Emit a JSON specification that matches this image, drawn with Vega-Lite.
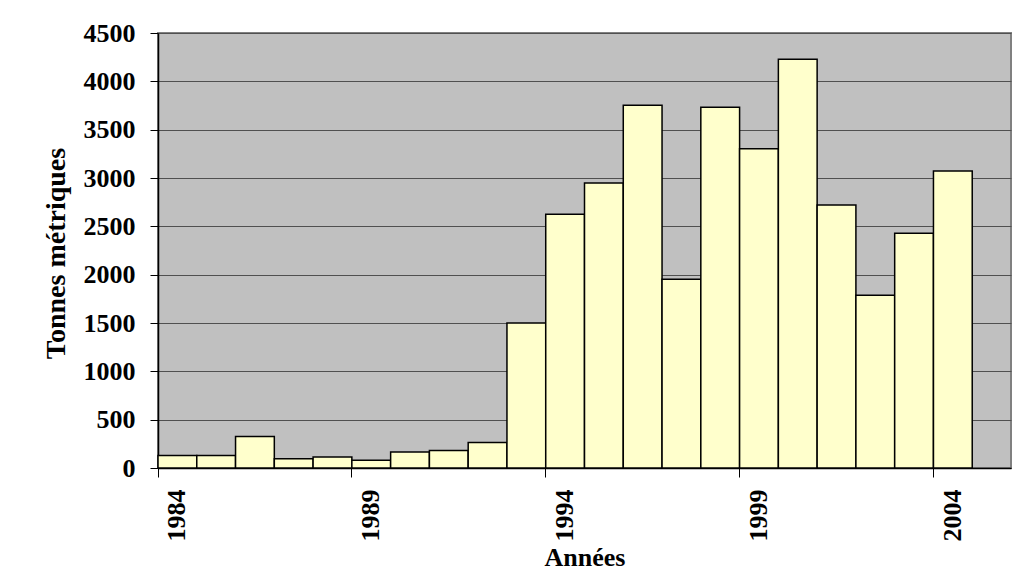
{
  "$schema": "https://vega.github.io/schema/vega-lite/v6.json",
  "width": 853,
  "height": 435,
  "autosize": {"type": "none"},
  "padding": {"left": 158, "top": 33, "right": 15, "bottom": 105},
  "background": "white",
  "config": {
    "view": {"fill": "#C0C0C0", "stroke": "#808080", "strokeWidth": 2},
    "font": "Liberation Serif",
    "axis": {
      "labelFont": "Liberation Serif",
      "titleFont": "Liberation Serif",
      "labelFontWeight": "bold",
      "titleFontWeight": "bold",
      "labelColor": "black",
      "titleColor": "black",
      "domainColor": "black",
      "tickColor": "black"
    }
  },
  "data": {
    "values": [
      {"year": 1984, "tonnes": 130},
      {"year": 1985, "tonnes": 130},
      {"year": 1986, "tonnes": 327},
      {"year": 1987, "tonnes": 96},
      {"year": 1988, "tonnes": 114},
      {"year": 1989, "tonnes": 79},
      {"year": 1990, "tonnes": 166},
      {"year": 1991, "tonnes": 182},
      {"year": 1992, "tonnes": 265},
      {"year": 1993, "tonnes": 1500},
      {"year": 1994, "tonnes": 2624},
      {"year": 1995, "tonnes": 2948},
      {"year": 1996, "tonnes": 3752},
      {"year": 1997, "tonnes": 1952},
      {"year": 1998, "tonnes": 3731},
      {"year": 1999, "tonnes": 3303},
      {"year": 2000, "tonnes": 4228},
      {"year": 2001, "tonnes": 2721},
      {"year": 2002, "tonnes": 1786},
      {"year": 2003, "tonnes": 2428},
      {"year": 2004, "tonnes": 3072}
    ]
  },
  "mark": {"type": "bar", "fill": "#FFFFCC", "stroke": "black", "strokeWidth": 1.5},
  "encoding": {
    "x": {
      "field": "year",
      "type": "ordinal",
      "scale": {
        "domain": [1984,1985,1986,1987,1988,1989,1990,1991,1992,1993,1994,1995,1996,1997,1998,1999,2000,2001,2002,2003,2004,2005],
        "paddingInner": 0,
        "paddingOuter": 0
      },
      "axis": {
        "title": "Années",
        "titleFontSize": 26,
        "titleBaseline": "alphabetic",
        "titleY": 97,
        "values": [1984, 1989, 1994, 1999, 2004],
        "bandPosition": 0,
        "labelOffset": 0,
        "labelAngle": -90,
        "labelFontSize": 26,
        "labelPadding": 12,
        "tickSize": 9,
        "domainWidth": 1.5,
        "grid": false
      }
    },
    "y": {
      "field": "tonnes",
      "type": "quantitative",
      "scale": {"domain": [0, 4500], "nice": false},
      "axis": {
        "title": "Tonnes métriques",
        "titleFontSize": 28,
        "titleAngle": -90,
        "titleX": -102,
        "titleY": 220,
        "titleAlign": "center",
        "titleBaseline": "middle",
        "values": [0,500,1000,1500,2000,2500,3000,3500,4000,4500],
        "format": "d",
        "labelFontSize": 26,
        "labelPadding": 15,
        "tickSize": 8,
        "domainWidth": 1.5,
        "grid": true,
        "gridColor": "#505050",
        "gridWidth": 1.2
      }
    }
  }
}
